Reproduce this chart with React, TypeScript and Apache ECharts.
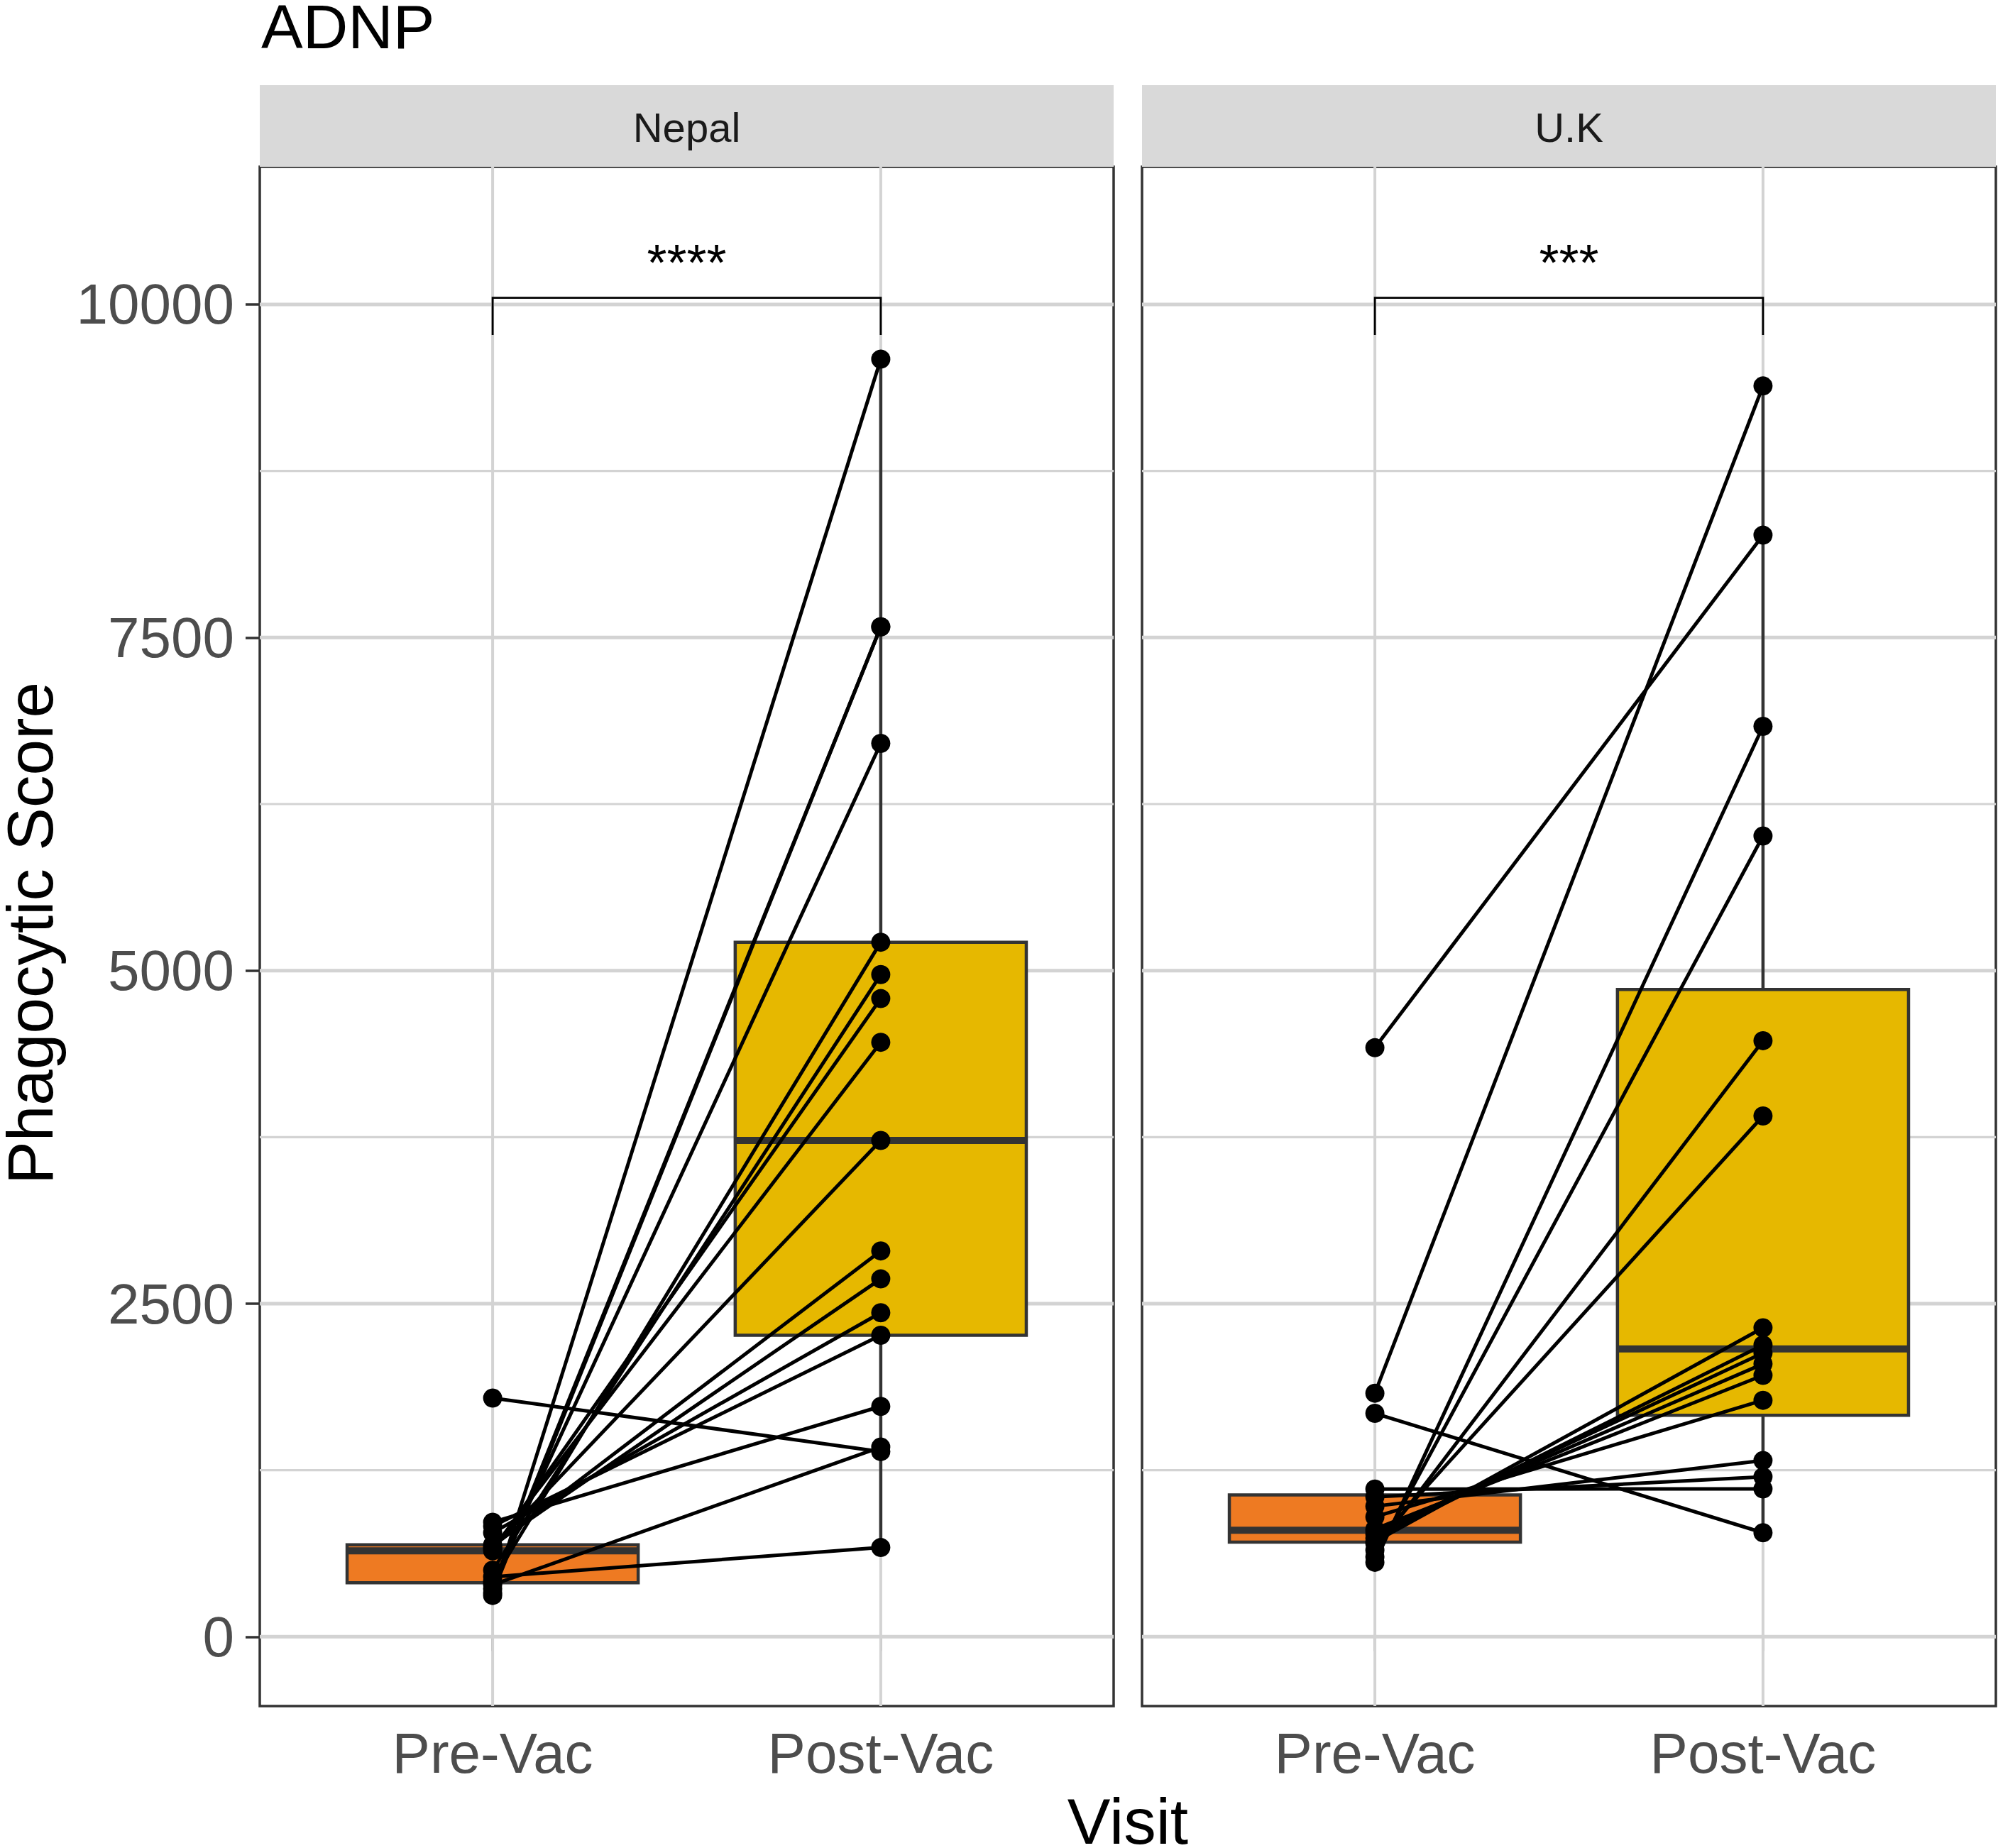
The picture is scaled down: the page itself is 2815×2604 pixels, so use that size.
import { useEffect, useRef } from 'react';
import * as echarts from 'echarts';

const VISITS = ['Pre-Vac', 'Post-Vac'];
const PANELS = ['Nepal', 'U.K'];
const SIGNIF = ['****', '***'];
const Y_TICKS = [0, 2500, 5000, 7500, 10000];
const Y_MINOR = [1250, 3750, 6250, 8750];

// paired subjects: index i of pre pairs with index i of post
const nepalPre = [310, 330, 360, 405, 420, 450, 500, 645, 660, 670, 680, 690, 780, 830, 860, 390, 1792];
const nepalPost = [9589, 7580, 7580, 6705, 5213, 670, 4970, 4790, 4462, 3725, 2896, 2686, 2432, 2263, 1729, 1424, 1390];
const ukPre = [4421, 1828, 1677, 559, 600, 650, 700, 713, 740, 770, 790, 808, 900, 980, 1050, 1109];
const ukPost = [8268, 9388, 781, 6833, 6010, 4474, 3909, 2319, 2190, 2130, 2048, 1962, 1775, 1323, 1200, 1110];

const BRACKET_TOP = 10050;
const BRACKET_BOTTOM = 9770;
const LABEL_Y = 10315;

const X_MIN = 0.4;
const X_MAX = 2.6;
const Y_MIN = -520;
const Y_MAX = 11033;

const FONT = '"Liberation Sans", Arial, sans-serif';
const BOX_COLORS = ['#EE7A22', '#E6B800'];

function quantile(sorted: number[], p: number) {
  const h = (sorted.length - 1) * p;
  const lo = Math.floor(h);
  const hi = Math.min(lo + 1, sorted.length - 1);
  return sorted[lo] + (h - lo) * (sorted[hi] - sorted[lo]);
}

function boxStats(values: number[]) {
  const s = [...values].sort((a, b) => a - b);
  const q1 = quantile(s, 0.25);
  const med = quantile(s, 0.5);
  const q3 = quantile(s, 0.75);
  const iqr = q3 - q1;
  const lo = Math.min(...s.filter((v) => v >= q1 - 1.5 * iqr));
  const hi = Math.max(...s.filter((v) => v <= q3 + 1.5 * iqr));
  return [lo, q1, med, q3, hi];
}

export default function App() {
  const ref = useRef<HTMLDivElement>(null);

  useEffect(() => {
    document.body.style.margin = '0';
    const chart = echarts.init(ref.current!, null, { renderer: 'svg' });
    const panelData = [
      { pre: nepalPre, post: nepalPost },
      { pre: ukPre, post: ukPost },
    ];
    const grids = [
      { left: 366, top: 235, width: 1203, height: 2169 },
      { left: 1609, top: 235, width: 1203, height: 2169 },
    ];

    const series: any[] = [];
    panelData.forEach((pd, gi) => {
      const common = { xAxisIndex: gi, yAxisIndex: gi };
      const gridItems: number[][] = [
        ...Y_TICKS.map((v) => [0, v, 1]),
        ...Y_MINOR.map((v) => [0, v, 0]),
        ...VISITS.map((_, i) => [1, i + 1, 1]),
      ];
      series.push({
        ...common,
        type: 'custom',
        z: 1,
        silent: true,
        data: gridItems,
        renderItem: (params: any, api: any) => {
          const kind = api.value(0);
          const v = api.value(1);
          const major = api.value(2);
          const p1 = kind === 0 ? api.coord([X_MIN, v]) : api.coord([v, Y_MIN]);
          const p2 = kind === 0 ? api.coord([X_MAX, v]) : api.coord([v, Y_MAX]);
          return {
            type: 'line',
            shape: { x1: p1[0], y1: p1[1], x2: p2[0], y2: p2[1] },
            style: { stroke: '#D3D3D3', lineWidth: kind === 1 ? 4 : major ? 5 : 3.2 },
          };
        },
      });
      const boxes = [pd.pre, pd.post].map((vals, i) => [i + 1, ...boxStats(vals)]);
      series.push({
        ...common,
        type: 'custom',
        z: 2,
        silent: true,
        data: boxes,
        renderItem: (params: any, api: any) => {
          const x = api.value(0);
          const lo = api.value(1), q1 = api.value(2), med = api.value(3), q3 = api.value(4), hi = api.value(5);
          const half = 0.375;
          const tl = api.coord([x - half, q3]);
          const br = api.coord([x + half, q1]);
          const c = (v: number) => api.coord([x, v]);
          const ml = api.coord([x - half, med]);
          const mr = api.coord([x + half, med]);
          const stroke = '#333333';
          return {
            type: 'group',
            children: [
              { type: 'line', shape: { x1: c(hi)[0], y1: c(hi)[1], x2: c(q3)[0], y2: c(q3)[1] }, style: { stroke, lineWidth: 4.5 } },
              { type: 'line', shape: { x1: c(q1)[0], y1: c(q1)[1], x2: c(lo)[0], y2: c(lo)[1] }, style: { stroke, lineWidth: 4.5 } },
              {
                type: 'rect',
                shape: { x: tl[0], y: tl[1], width: br[0] - tl[0], height: br[1] - tl[1] },
                style: { fill: BOX_COLORS[params.dataIndex], stroke, lineWidth: 4.5 },
              },
              { type: 'line', shape: { x1: ml[0], y1: ml[1], x2: mr[0], y2: mr[1] }, style: { stroke, lineWidth: 10 } },
            ],
          };
        },
      });
      series.push({
        ...common,
        type: 'custom',
        z: 3,
        silent: true,
        data: pd.pre.map((v, i) => [v, pd.post[i]]),
        renderItem: (params: any, api: any) => {
          const a = api.coord([1, api.value(0)]);
          const b = api.coord([2, api.value(1)]);
          return {
            type: 'line',
            shape: { x1: a[0], y1: a[1], x2: b[0], y2: b[1] },
            style: { stroke: '#000000', lineWidth: 5 },
          };
        },
      });
      series.push({
        ...common,
        type: 'scatter',
        z: 4,
        silent: true,
        symbol: 'circle',
        symbolSize: 27,
        itemStyle: { color: '#000000', opacity: 1 },
        data: [...pd.pre.map((v) => [1, v]), ...pd.post.map((v) => [2, v])],
      });
      series.push({
        ...common,
        type: 'custom',
        z: 5,
        silent: true,
        data: [[1, 2, BRACKET_TOP, BRACKET_BOTTOM, LABEL_Y]],
        renderItem: (params: any, api: any) => {
          const x1 = api.value(0), x2 = api.value(1);
          const top = api.value(2), bot = api.value(3), ly = api.value(4);
          const pts = [
            api.coord([x1, bot]),
            api.coord([x1, top]),
            api.coord([x2, top]),
            api.coord([x2, bot]),
          ];
          const lp = api.coord([(x1 + x2) / 2, ly]);
          return {
            type: 'group',
            children: [
              { type: 'polyline', shape: { points: pts }, style: { stroke: '#000000', lineWidth: 2.8, fill: 'none' } },
              {
                type: 'text',
                x: lp[0],
                y: lp[1],
                style: {
                  text: SIGNIF[gi],
                  fill: '#000000',
                  fontSize: 72,
                  fontFamily: FONT,
                  align: 'center',
                  verticalAlign: 'middle',
                },
              },
            ],
          };
        },
      });
    });

    const option: any = {
      animation: false,
      backgroundColor: '#FFFFFF',
      grid: grids.map((g) => ({
        ...g,
        show: true,
        borderColor: '#333333',
        borderWidth: 3.5,
        backgroundColor: 'transparent',
        containLabel: false,
      })),
      xAxis: grids.map((_, gi) => ({
        type: 'value',
        gridIndex: gi,
        min: X_MIN,
        max: X_MAX,
        axisLine: { show: false },
        splitLine: { show: false },
        axisTick: {
          show: true,
          customValues: [1, 2],
          length: 20,
          lineStyle: { color: '#333333', width: 3.5 },
        },
        axisLabel: {
          show: true,
          customValues: [1, 2],
          formatter: (v: number) => VISITS[Math.round(v) - 1] ?? '',
          fontSize: 80,
          color: '#4D4D4D',
          fontFamily: FONT,
          margin: 26,
        },
      })),
      yAxis: grids.map((_, gi) => ({
        type: 'value',
        gridIndex: gi,
        min: Y_MIN,
        max: Y_MAX,
        axisLine: { show: false },
        splitLine: { show: false },
        axisTick: {
          show: gi === 0,
          customValues: Y_TICKS,
          length: 20,
          lineStyle: { color: '#333333', width: 3.5 },
        },
        axisLabel: {
          show: gi === 0,
          customValues: Y_TICKS,
          formatter: (v: number) => String(Math.round(v)),
          fontSize: 80,
          color: '#4D4D4D',
          fontFamily: FONT,
          margin: 36,
        },
      })),
      graphic: [
        ...grids.map((g, gi) => ({
          type: 'group',
          children: [
            {
              type: 'rect',
              shape: { x: g.left, y: 120, width: g.width, height: 115 },
              style: { fill: '#D9D9D9' },
            },
            {
              type: 'text',
              x: g.left + g.width / 2,
              y: 179,
              style: {
                text: PANELS[gi],
                fill: '#1A1A1A',
                fontSize: 58,
                fontFamily: FONT,
                align: 'center',
                verticalAlign: 'middle',
              },
            },
          ],
        })),
        {
          type: 'text',
          x: 368,
          y: 37,
          style: { text: 'ADNP', fill: '#000000', fontSize: 88, fontFamily: FONT, align: 'left', verticalAlign: 'middle' },
        },
        {
          type: 'text',
          x: 1589,
          y: 2566,
          style: { text: 'Visit', fill: '#000000', fontSize: 91, fontFamily: FONT, align: 'center', verticalAlign: 'middle' },
        },
        {
          type: 'text',
          x: 42,
          y: 1315,
          rotation: Math.PI / 2,
          style: {
            text: 'Phagocytic Score',
            fill: '#000000',
            fontSize: 91,
            fontFamily: FONT,
            align: 'center',
            verticalAlign: 'middle',
          },
        },
      ],
      series,
    };
    chart.setOption(option);
    return () => chart.dispose();
  }, []);

  return (
    <div
      ref={ref}
      style={{ position: 'absolute', left: 0, top: 0, width: 2815, height: 2604, background: '#FFFFFF' }}
    />
  );
}
